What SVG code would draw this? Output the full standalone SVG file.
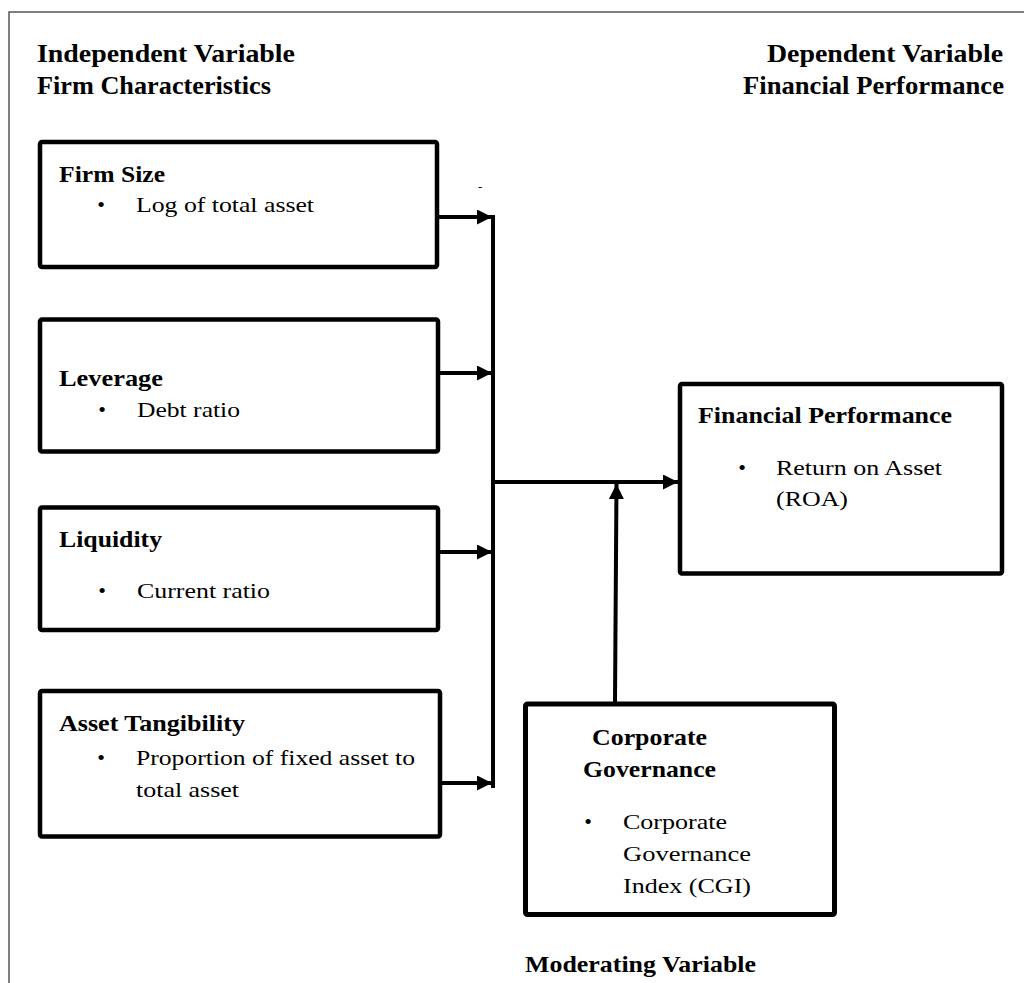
<svg xmlns="http://www.w3.org/2000/svg" width="1024" height="983" viewBox="0 0 1024 983">
<style>
.frame{stroke:#555;stroke-width:1.5;fill:none}
.box{fill:#fff;stroke:#000;stroke-width:4.5}
.conn{stroke:#000;stroke-width:4;fill:none}
.hdr{font-family:"Liberation Serif","Times New Roman",serif;font-weight:bold;font-size:26px;fill:#000}
.ttl{font-family:"Liberation Serif","Times New Roman",serif;font-weight:bold;font-size:23px;fill:#000}
.txt{font-family:"Liberation Serif","Times New Roman",serif;font-size:22px;fill:#000}
.bul{font-family:"Liberation Serif","Times New Roman",serif;font-size:22px;fill:#000;text-anchor:middle}
</style>
<defs>
<marker id="ah" markerUnits="userSpaceOnUse" markerWidth="15" markerHeight="15" refX="15" refY="7.5" orient="auto">
<path d="M0,0 L15,7.5 L0,15 Z" fill="#000"/>
</marker>
</defs>
<rect width="1024" height="983" fill="#fff"/>
<g id="frame">
<path class="frame" d="M9,983 L9,12 L1024,12"/>
</g>
<g id="headers">
<text class="hdr" x="37" y="62" textLength="258" lengthAdjust="spacingAndGlyphs">Independent Variable</text>
<text class="hdr" x="37" y="94" textLength="234" lengthAdjust="spacingAndGlyphs">Firm Characteristics</text>
<text class="hdr" x="767" y="62" textLength="236" lengthAdjust="spacingAndGlyphs">Dependent Variable</text>
<text class="hdr" x="743" y="94" textLength="261" lengthAdjust="spacingAndGlyphs">Financial Performance</text>
<text class="txt" x="478" y="191" style="font-size:13px">-</text>
</g>
<g id="connectors">
<line class="conn" x1="437" y1="217" x2="492" y2="217" marker-end="url(#ah)"/>
<line class="conn" x1="438" y1="373" x2="492" y2="373" marker-end="url(#ah)"/>
<line class="conn" x1="438" y1="552" x2="492" y2="552" marker-end="url(#ah)"/>
<line class="conn" x1="440" y1="783" x2="492" y2="783" marker-end="url(#ah)"/>
<line class="conn" x1="493" y1="215" x2="493" y2="788"/>
<line class="conn" x1="493" y1="482" x2="678" y2="482" marker-end="url(#ah)"/>
<line class="conn" x1="615" y1="702" x2="616.5" y2="484" marker-end="url(#ah)"/>
</g>
<g id="firm-size">
<rect class="box" x="40" y="142" width="397" height="125" rx="2"/>
<text class="ttl" x="59" y="182" textLength="106" lengthAdjust="spacingAndGlyphs">Firm Size</text>
<text class="bul" x="101" y="212">•</text>
<text class="txt" x="136" y="212" textLength="178" lengthAdjust="spacingAndGlyphs">Log of total asset</text>
</g>
<g id="leverage">
<rect class="box" x="40" y="319.5" width="398" height="132" rx="2"/>
<text class="ttl" x="59" y="386" textLength="104" lengthAdjust="spacingAndGlyphs">Leverage</text>
<text class="bul" x="102" y="417">•</text>
<text class="txt" x="137" y="417" textLength="103" lengthAdjust="spacingAndGlyphs">Debt ratio</text>
</g>
<g id="liquidity">
<rect class="box" x="40" y="507.5" width="398" height="122.5" rx="2"/>
<text class="ttl" x="59" y="547" textLength="103" lengthAdjust="spacingAndGlyphs">Liquidity</text>
<text class="bul" x="102" y="598">•</text>
<text class="txt" x="137" y="598" textLength="133" lengthAdjust="spacingAndGlyphs">Current ratio</text>
</g>
<g id="asset-tangibility">
<rect class="box" x="40" y="691" width="400" height="145.5" rx="2"/>
<text class="ttl" x="59" y="731" textLength="186" lengthAdjust="spacingAndGlyphs">Asset Tangibility</text>
<text class="bul" x="101" y="765">•</text>
<text class="txt" x="136" y="765" textLength="279" lengthAdjust="spacingAndGlyphs">Proportion of fixed asset to</text>
<text class="txt" x="136" y="797" textLength="103" lengthAdjust="spacingAndGlyphs">total asset</text>
</g>
<g id="financial-performance">
<rect class="box" x="680" y="384" width="322" height="189.5" rx="2"/>
<text class="ttl" x="698" y="423" textLength="254" lengthAdjust="spacingAndGlyphs">Financial Performance</text>
<text class="bul" x="742" y="475">•</text>
<text class="txt" x="776" y="475" textLength="166" lengthAdjust="spacingAndGlyphs">Return on Asset</text>
<text class="txt" x="776" y="506" textLength="72" lengthAdjust="spacingAndGlyphs">(ROA)</text>
</g>
<g id="corporate-governance">
<rect class="box" x="525.5" y="704" width="309" height="210.5" rx="2" style="stroke-width:5"/>
<text class="ttl" x="592" y="745" textLength="115" lengthAdjust="spacingAndGlyphs">Corporate</text>
<text class="ttl" x="583" y="777" textLength="133" lengthAdjust="spacingAndGlyphs">Governance</text>
<text class="bul" x="588" y="829">•</text>
<text class="txt" x="623" y="829" textLength="104" lengthAdjust="spacingAndGlyphs">Corporate</text>
<text class="txt" x="623" y="861" textLength="128" lengthAdjust="spacingAndGlyphs">Governance</text>
<text class="txt" x="623" y="893" textLength="128" lengthAdjust="spacingAndGlyphs">Index (CGI)</text>
</g>
<g id="moderating-label">
<text class="ttl" x="525" y="972" textLength="231" lengthAdjust="spacingAndGlyphs">Moderating Variable</text>
</g>
</svg>
